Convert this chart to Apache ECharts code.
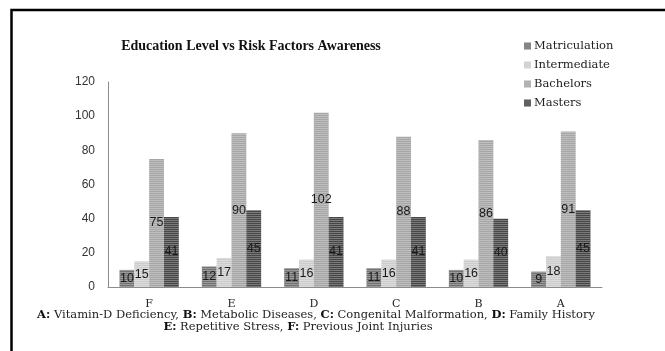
<!DOCTYPE html>
<html>
<head>
<meta charset="utf-8">
<script src="https://cdn.jsdelivr.net/npm/echarts@6/dist/echarts.min.js"></script>
<style>
  html, body { margin: 0; padding: 0; background: #fff; }
  #chart { width: 665px; height: 351px; }
</style>
</head>
<body>
<div id="chart"></div>
<script>
// Risk factor groups on the x axis
const categories = ['F', 'E', 'D', 'C', 'B', 'A'];

// Awareness counts per education level
const matriculation = [10, 12, 11, 11, 10, 9];
const intermediate  = [15, 17, 16, 16, 16, 18];
const bachelors     = [75, 90, 102, 88, 86, 91];
const masters       = [41, 45, 41, 41, 40, 45];

const seriesNames = ['Matriculation', 'Intermediate', 'Bachelors', 'Masters'];
const seriesData = [matriculation, intermediate, bachelors, masters];
const seriesColors = ['#727272', '#cdcdcd', '#a6a6a6', '#474747'];

const yTicks = { min: 0, max: 120, interval: 20 };

const serif = '"DejaVu Serif", "Liberation Serif", serif';
const titleSerif = '"Liberation Serif", serif';
const sans = '"Liberation Sans", "DejaVu Sans", sans-serif';

// Thin horizontal stripes over each bar
const stripe = {
  symbol: 'rect',
  symbolSize: 1,
  dashArrayX: [[8, 0]],
  dashArrayY: [1, 1],
  rotation: 0,
  color: 'rgba(255,255,255,0.28)'
};

const chart = echarts.init(document.getElementById('chart'), null, { renderer: 'canvas' });

const series = seriesNames.map((name, i) => ({
  name: name,
  type: 'bar',
  data: seriesData[i],
  barGap: '0%',
  barCategoryGap: '28%',
  itemStyle: { color: seriesColors[i], decal: stripe },
  label: {
    show: true,
    position: 'inside',
    color: '#1a1a1a',
    fontFamily: sans,
    fontSize: 12.5
  }
}));

chart.setOption({
  animation: false,
  backgroundColor: '#fff',
  aria: { enabled: true, decal: { show: true } },
  title: {
    text: 'Education Level vs Risk Factors Awareness',
    left: 246,
    textAlign: 'center',
    top: 34,
    textStyle: { fontFamily: titleSerif, fontWeight: 'bold', fontSize: 14, color: '#111' }
  },
  legend: {
    orient: 'vertical',
    left: 519,
    top: 35,
    itemWidth: 7,
    itemHeight: 7,
    itemGap: 7,
    icon: 'rect',
    textStyle: { fontFamily: serif, fontSize: 11.5, color: '#222', padding: [0, 0, 0, -2] },
    data: seriesNames
  },
  grid: { left: 108, right: 63, top: 82, bottom: 64, containLabel: false },
  xAxis: {
    type: 'category',
    data: categories,
    axisLine: { lineStyle: { color: '#8c8c8c', width: 1 } },
    axisTick: { show: false },
    axisLabel: { fontFamily: serif, fontSize: 11, color: '#222', margin: 12 }
  },
  yAxis: {
    type: 'value',
    min: yTicks.min,
    max: yTicks.max,
    interval: yTicks.interval,
    axisLine: { show: true, lineStyle: { color: '#8c8c8c', width: 1 } },
    axisTick: { show: false },
    splitLine: { show: false },
    axisLabel: { fontFamily: sans, fontSize: 12, color: '#333', margin: 13 }
  },
  series: series,
  graphic: [
    {
      type: 'polyline',
      shape: { points: [[11.5, 351], [11.5, 10], [665, 10]] },
      style: { stroke: '#000', lineWidth: 2.5, fill: null }
    },
    {
      type: 'text',
      x: 316,
      y: 315,
      style: {
        text: '{b|A:} Vitamin-D Deficiency, {b|B:} Metabolic Diseases, {b|C:} Congenital Malformation, {b|D:} Family History',
        align: 'center',
        verticalAlign: 'middle',
        font: '11.5px ' + serif,
        fill: '#222',
        rich: { b: { fontWeight: 'bold', fontFamily: serif, fontSize: 11.5, fill: '#111' } }
      }
    },
    {
      type: 'text',
      x: 298,
      y: 327,
      style: {
        text: '{b|E:} Repetitive Stress, {b|F:} Previous Joint Injuries',
        align: 'center',
        verticalAlign: 'middle',
        font: '11.5px ' + serif,
        fill: '#222',
        rich: { b: { fontWeight: 'bold', fontFamily: serif, fontSize: 11.5, fill: '#111' } }
      }
    }
  ]
});
</script>
</body>
</html>
